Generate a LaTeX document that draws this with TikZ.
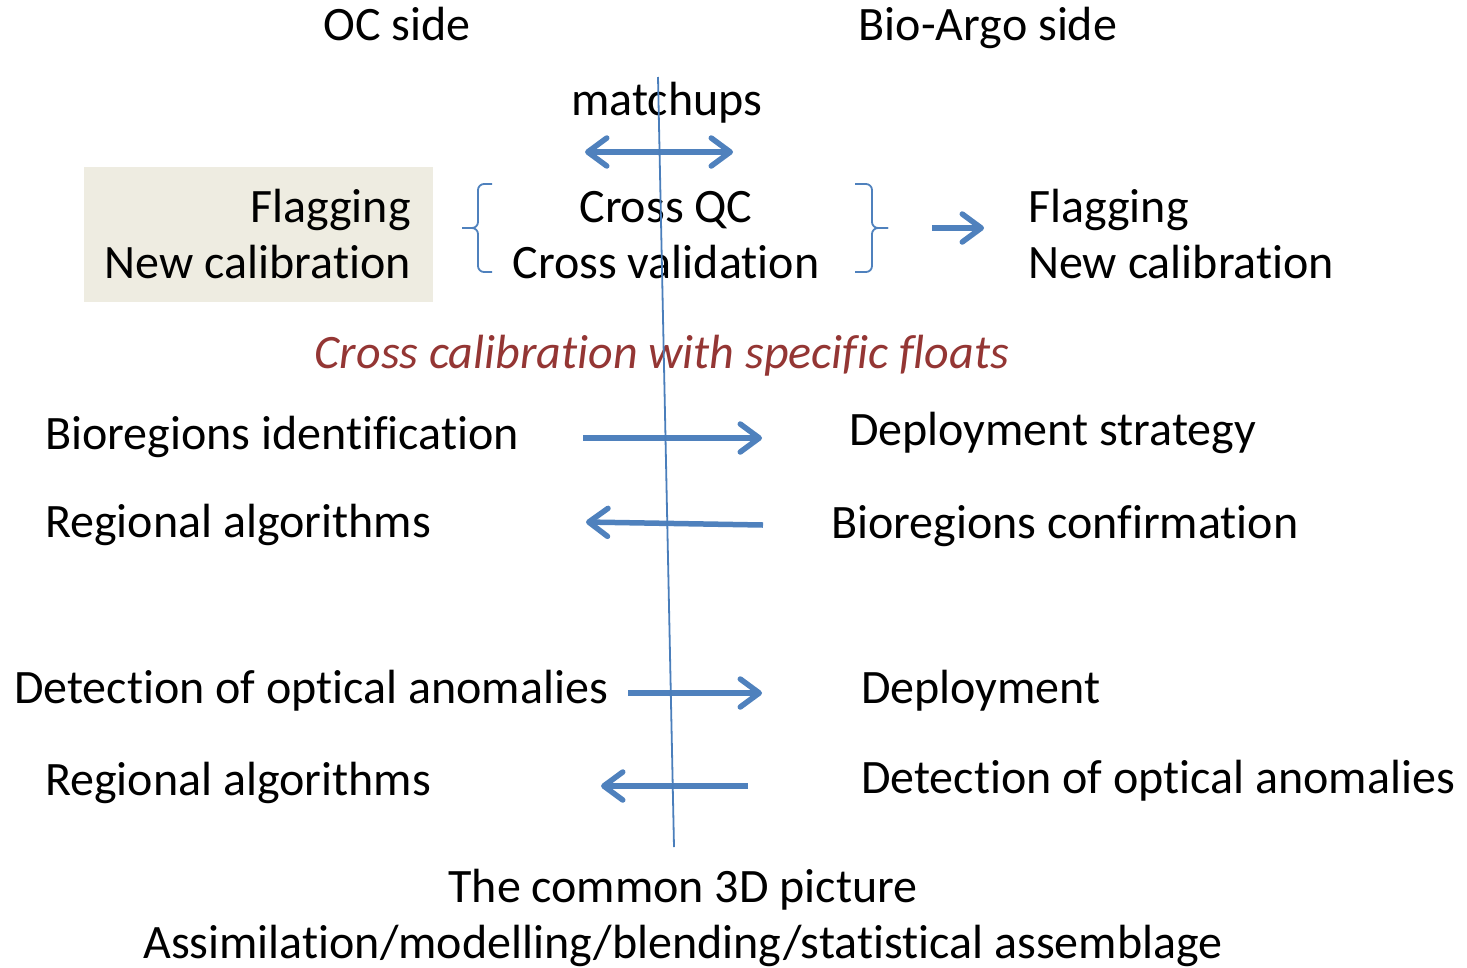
\documentclass[tikz,border=0pt]{standalone}
\usepackage{fontspec}
\setmainfont{Carlito}[Ligatures=NoCommon]
\usetikzlibrary{arrows.meta}
\definecolor{ablue}{HTML}{4F81BD}
\definecolor{lblue}{HTML}{4A7EBB}
\definecolor{tan}{HTML}{EEECE1}
\definecolor{dred}{HTML}{943634}
\tikzset{
  txt/.style={inner sep=0pt, font=\fontsize{48}{56}\selectfont},
  barb/.tip={Straight Barb[length=19pt, width=28pt, line cap=round, line join=round]},
  bigarrow/.style={draw=ablue, line width=5.5pt, -barb},
  dblarrow/.style={draw=ablue, line width=5.5pt, barb-barb},
  bracket/.style={draw=ablue, line width=1.8pt, rounded corners=6pt},
  axis/.style={draw=lblue, line width=1.8pt}
}
\begin{document}
\begin{tikzpicture}[x=1pt,y=-1pt]
\useasboundingbox (0,0) rectangle (1467,967);
% headers
\node[txt, anchor=base] (oc) at (397,40) {OC side};
\node[txt, anchor=base] (bio) at (988,40) {Bio-Argo side};
\node[txt, anchor=base] (match) at (667,115) {matchups};
% box
\fill[tan] (84,167) rectangle (433,302);
\node[txt, anchor=base east] (lf) at (411,222) {Flagging};
\node[txt, anchor=base east] (lnc) at (411,278) {New calibration};
% center
\node[txt, anchor=base] (cqc) at (666,222) {Cross QC};
\node[txt, anchor=base] (cv) at (666,278) {Cross validation};
% right
\node[txt, anchor=base west] (rf) at (1028,222) {Flagging};
\node[txt, anchor=base west] (rnc) at (1028,278) {New calibration};
% braces
\draw[bracket] (492,184) -- (478,184) -- (478,228) -- (462,228);
\draw[bracket] (462,228) -- (478,228) -- (478,272) -- (492,272);
\draw[bracket] (855,184) -- (872,184) -- (872,228) -- (888,228);
\draw[bracket] (888,228) -- (872,228) -- (872,272) -- (855,272);
% italic
\node[txt, anchor=base, text=dred, font=\fontsize{48}{56}\selectfont\itshape] (cc) at (662,368) {Cross calibration with specific floats};
% rows
\node[txt, anchor=base west] (bi) at (45,449) {Bioregions identification};
\node[txt, anchor=base west] (ds) at (849,445) {Deployment strategy};
\node[txt, anchor=base west] (ra1) at (45,537) {Regional algorithms};
\node[txt, anchor=base west] (bc) at (831,538) {Bioregions confirmation};
\node[txt, anchor=base west] (doa1) at (14,703) {Detection of optical anomalies};
\node[txt, anchor=base west] (dep) at (861,703) {Deployment};
\node[txt, anchor=base west] (ra2) at (45,795) {Regional algorithms};
\node[txt, anchor=base west] (doa2) at (861,793) {Detection of optical anomalies};
% bottom
\node[txt, anchor=base] (c3d) at (683,902) {The common 3D picture};
\node[txt, anchor=base] (assim) at (683,958) {Assimilation/modelling/blending/statistical assemblage};
% arrow coordinates
\coordinate (m1) at (585,152); \coordinate (m2) at (733,152);
\coordinate (f1) at (932,228); \coordinate (f2) at (984,228);
\coordinate (a1) at (583,438); \coordinate (a2) at (762,438);
\coordinate (b1) at (763,525); \coordinate (b2) at (586,522);
\coordinate (c1) at (628,693); \coordinate (c2) at (762,693);
\coordinate (d1) at (748,786); \coordinate (d2) at (601,786);
\coordinate (vt) at (658,77); \coordinate (vb) at (674,847);
\draw[dblarrow] (m1) -- (m2);
\draw[bigarrow] (f1) -- (f2);
\draw[bigarrow] (a1) -- (a2);
\draw[bigarrow] (b1) -- (b2);
\draw[bigarrow] (c1) -- (c2);
\draw[bigarrow] (d1) -- (d2);
\draw[axis] (vt) -- (vb);
\end{tikzpicture}
\end{document}
